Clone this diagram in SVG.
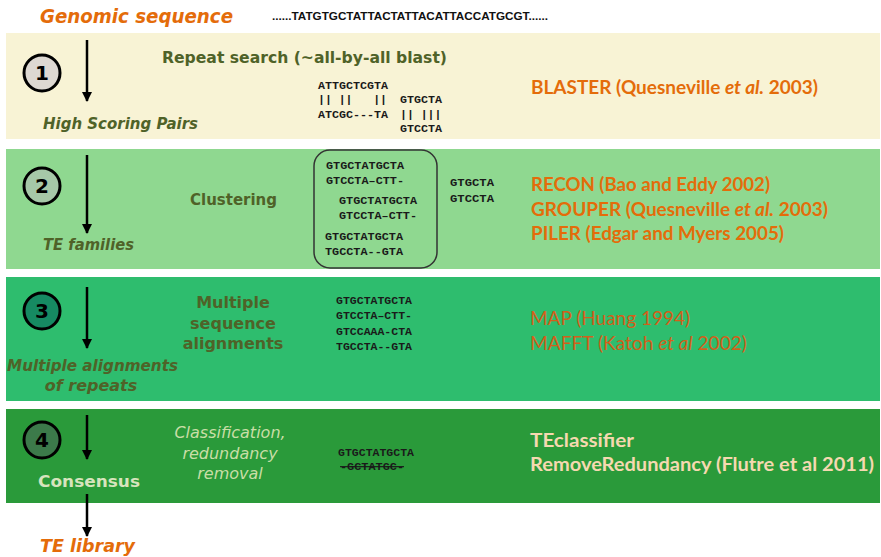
<svg xmlns="http://www.w3.org/2000/svg" width="881" height="557" viewBox="0 0 881 557">
<defs>
<marker id="ah" viewBox="0 0 10 10" refX="9" refY="5" markerWidth="4" markerHeight="4" orient="auto" markerUnits="strokeWidth">
<path d="M0,0 L10,5 L0,10 z" fill="#000"/>
</marker>
<style>
.lbl{font-family:"DejaVu Sans",sans-serif;font-weight:bold;font-size:16px;fill:#4F6228}
.it{font-style:italic}
.tool{font-family:Lato,"Liberation Sans",sans-serif;font-weight:bold;font-size:19px;fill:#E46C0A}
.seq{font-family:"Liberation Mono",monospace;font-weight:bold;font-size:11.5px;fill:#1a1a1a}
.num{font-family:"DejaVu Sans",sans-serif;font-weight:bold;font-size:20px;fill:#000;text-anchor:middle}
.circ{stroke:#000;stroke-width:3}
.arr{stroke:#000;stroke-width:2.5;fill:none;marker-end:url(#ah)}
.orange{font-family:"DejaVu Sans",sans-serif;font-weight:bold;font-style:italic;fill:#E46C0A}
.muted{fill:#D2601A;font-weight:normal}
.light{fill:#F5D9B0}
</style>
</defs>
<rect width="881" height="557" fill="#fff"/>

<g id="genomic">
<text class="orange" x="40" y="23" font-size="19" textLength="193" lengthAdjust="spacingAndGlyphs">Genomic sequence</text>
<text x="272" y="20" font-family="Liberation Sans,sans-serif" font-weight="bold" font-size="10" fill="#111" textLength="276" lengthAdjust="spacingAndGlyphs">......TATGTGCTATTACTATTACATTACCATGCGT......</text>
</g>

<g id="stage1">
<rect x="6" y="33" width="874" height="106" fill="#F8F3D5"/>
<circle class="circ" cx="42" cy="73" r="18" fill="#DDD8D2"/>
<text class="num" x="42" y="80">1</text>
<text class="lbl" x="162" y="63" font-size="17" textLength="285" lengthAdjust="spacingAndGlyphs">Repeat search (~all-by-all blast)</text>
<text class="seq" x="318" y="89" textLength="70" lengthAdjust="spacingAndGlyphs">ATTGCTCGTA</text>
<text class="seq" x="318" y="103" xml:space="preserve">|| ||   ||</text>
<text class="seq" x="318" y="118" textLength="70" lengthAdjust="spacingAndGlyphs">ATCGC---TA</text>
<text class="seq" x="400" y="103" textLength="42" lengthAdjust="spacingAndGlyphs">GTGCTA</text>
<text class="seq" x="400" y="118" xml:space="preserve">|| |||</text>
<text class="seq" x="400" y="132" textLength="42" lengthAdjust="spacingAndGlyphs">GTCCTA</text>
<text class="tool" x="531" y="94" textLength="287" lengthAdjust="spacingAndGlyphs">BLASTER (Quesneville <tspan font-style="italic">et al.</tspan> 2003)</text>
<text class="lbl it" x="43" y="129" textLength="155" lengthAdjust="spacingAndGlyphs">High Scoring Pairs</text>
</g>

<g id="stage2">
<rect x="6" y="149" width="874" height="120" fill="#8FD890"/>
<circle class="circ" cx="42" cy="186" r="18" fill="#A6C8A8"/>
<text class="num" x="42" y="193">2</text>
<text class="lbl" x="190" y="205" font-size="17" textLength="87" lengthAdjust="spacingAndGlyphs">Clustering</text>
<rect x="314" y="150" width="123" height="118" rx="16" fill="none" stroke="#333" stroke-width="1.5"/>
<text class="seq" x="326" y="169" textLength="78" lengthAdjust="spacingAndGlyphs">GTGCTATGCTA</text>
<text class="seq" x="326" y="184" textLength="78" lengthAdjust="spacingAndGlyphs">GTCCTA–CTT-</text>
<text class="seq" x="339" y="204" textLength="78" lengthAdjust="spacingAndGlyphs">GTGCTATGCTA</text>
<text class="seq" x="339" y="219" textLength="78" lengthAdjust="spacingAndGlyphs">GTCCTA–CTT-</text>
<text class="seq" x="325" y="240" textLength="78" lengthAdjust="spacingAndGlyphs">GTGCTATGCTA</text>
<text class="seq" x="325" y="255" textLength="78" lengthAdjust="spacingAndGlyphs">TGCCTA--GTA</text>
<text class="seq" x="450" y="186" textLength="44" lengthAdjust="spacingAndGlyphs">GTGCTA</text>
<text class="seq" x="450" y="202" textLength="44" lengthAdjust="spacingAndGlyphs">GTCCTA</text>
<text class="tool" x="531" y="191" textLength="239" lengthAdjust="spacingAndGlyphs">RECON (Bao and Eddy 2002)</text>
<text class="tool" x="531" y="216" textLength="297" lengthAdjust="spacingAndGlyphs">GROUPER (Quesneville <tspan font-style="italic">et al.</tspan> 2003)</text>
<text class="tool" x="531" y="240" textLength="253" lengthAdjust="spacingAndGlyphs">PILER (Edgar and Myers 2005)</text>
<text class="lbl it" x="43" y="250" textLength="91" lengthAdjust="spacingAndGlyphs">TE families</text>
</g>

<g id="stage3">
<rect x="6" y="277" width="874" height="124" fill="#2EBD6E"/>
<circle class="circ" cx="42" cy="311" r="18" fill="#168A62"/>
<text class="num" x="42" y="318">3</text>
<text class="lbl" x="233" y="308" font-size="17" text-anchor="middle">Multiple</text>
<text class="lbl" x="233" y="329" font-size="17" text-anchor="middle">sequence</text>
<text class="lbl" x="233" y="349" font-size="17" text-anchor="middle">alignments</text>
<text class="seq" x="336" y="304" textLength="76" lengthAdjust="spacingAndGlyphs">GTGCTATGCTA</text>
<text class="seq" x="336" y="319" textLength="76" lengthAdjust="spacingAndGlyphs">GTCCTA–CTT-</text>
<text class="seq" x="336" y="335" textLength="76" lengthAdjust="spacingAndGlyphs">GTCCAAA-CTA</text>
<text class="seq" x="336" y="350" textLength="76" lengthAdjust="spacingAndGlyphs">TGCCTA--GTA</text>
<text class="tool muted" x="530" y="325" textLength="160" lengthAdjust="spacingAndGlyphs">MAP (Huang 1994)</text>
<text class="tool muted" x="530" y="350" textLength="217" lengthAdjust="spacingAndGlyphs">MAFFT (Katoh <tspan font-style="italic">et al</tspan> 2002)</text>
<text class="lbl it" x="7" y="371" textLength="171" lengthAdjust="spacingAndGlyphs">Multiple alignments</text>
<text class="lbl it" x="91" y="391" text-anchor="middle">of repeats</text>
</g>

<g id="stage4">
<rect x="6" y="409" width="874" height="94" fill="#2A9A3A"/>
<circle class="circ" cx="42" cy="440" r="18" fill="#3C7A4A"/>
<text class="num" x="42" y="447">4</text>
<text class="lbl it" x="230" y="438" text-anchor="middle" style="font-weight:normal;fill:#C9DEA6">Classification,</text>
<text class="lbl it" x="230" y="459" text-anchor="middle" style="font-weight:normal;fill:#C9DEA6">redundancy</text>
<text class="lbl it" x="230" y="479" text-anchor="middle" style="font-weight:normal;fill:#C9DEA6">removal</text>
<text class="lbl" x="38" y="487" style="fill:#D7E4BD" font-size="17" textLength="102" lengthAdjust="spacingAndGlyphs">Consensus</text>
<text class="seq" x="338" y="456" textLength="76" lengthAdjust="spacingAndGlyphs">GTGCTATGCTA</text>
<text class="seq" x="340" y="470" text-decoration="line-through" textLength="64" lengthAdjust="spacingAndGlyphs">-GCTATGC-</text>
<text class="tool light" x="530" y="447" textLength="104" lengthAdjust="spacingAndGlyphs">TEclassifier</text>
<text class="tool light" x="530" y="471" textLength="344" lengthAdjust="spacingAndGlyphs">RemoveRedundancy (Flutre et al 2011)</text>
</g>

<g id="telibrary">
<text class="orange" x="40" y="552" font-size="18" textLength="95" lengthAdjust="spacingAndGlyphs">TE library</text>
</g>

<g id="connectors">
<line class="arr" x1="87" y1="40" x2="87" y2="101"/>
<line class="arr" x1="87" y1="155" x2="87" y2="233"/>
<line class="arr" x1="87" y1="287" x2="87" y2="348"/>
<line class="arr" x1="87" y1="415" x2="87" y2="459"/>
<line class="arr" x1="87" y1="494" x2="87" y2="536"/>
</g>
</svg>
